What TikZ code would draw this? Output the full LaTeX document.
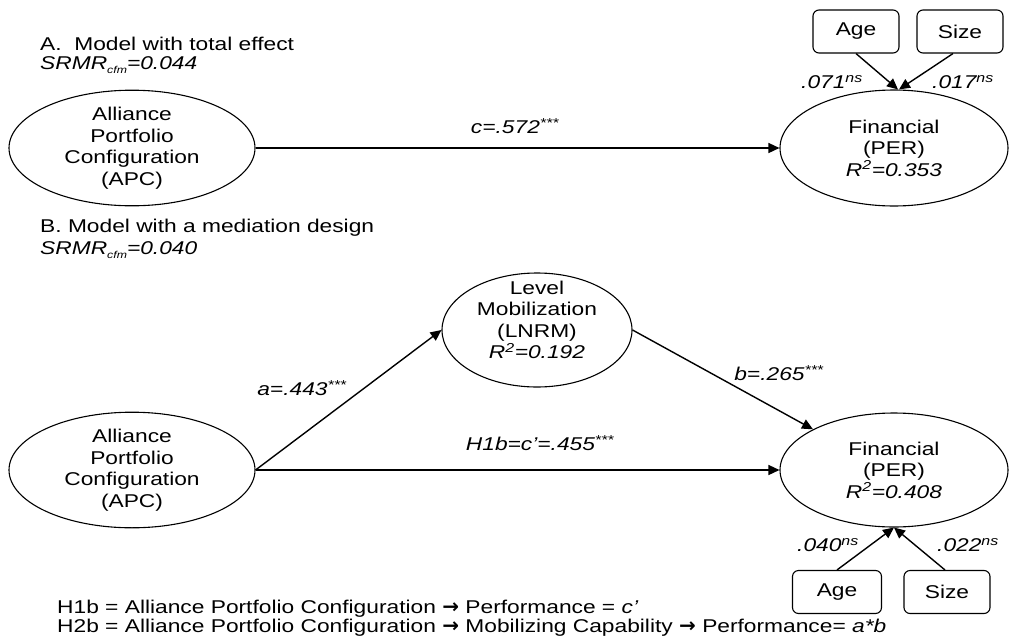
\documentclass[tikz,border=0pt]{standalone}
\usepackage{fontspec}
\setmainfont{Liberation Sans}[FakeStretch=1.23]
\newfontfamily\arrfont{DejaVu Sans Bold}
\usetikzlibrary{arrows.meta,shapes.geometric}
\newcommand{\subcfm}{\raisebox{-0.35ex}{\fontsize{10}{10}\selectfont cfm}}
\newcommand{\rarr}{{\arrfont\fontsize{20}{20}\selectfont →}}
\begin{document}
\begin{tikzpicture}[x=1pt,y=-1pt,
  txt/.style={font=\fontsize{18.5}{21.5}\selectfont, align=center, inner sep=0pt},
  lat/.style={ellipse, draw, line width=1.1pt, inner sep=0pt, txt},
  box/.style={rounded corners=6pt, draw, line width=1.1pt, minimum width=86pt, minimum height=43pt, txt},
  arr/.style={-{Triangle[length=11pt,width=10pt]}, line width=1.4pt},
  lbl/.style={font=\fontsize{18.5}{21.5}\selectfont\itshape, inner sep=0pt}
]
\useasboundingbox (0,0) rectangle (1010,643);

% ---------- Part A ----------
\node[txt, anchor=west] (titA) at (40,44) {A.\ \ Model with total effect};
\node[lbl, anchor=west] (srmrA) at (40,65) {SRMR\subcfm=0.044};

\node[lat, minimum width=246pt, minimum height=112pt] (apcA) at (132,148)
  {Alliance\\Portfolio\\Configuration\\(APC)};
\node[lat, minimum width=228pt, minimum height=116pt] (perA) at (894,148)
  {Financial\\(PER)\\\textit{R\textsuperscript{2}=0.353}};
\node[box] (ageA) at (856,31.5) {Age};
\node[box] (sizeA) at (960,31.5) {Size};

\draw[arr] (apcA) -- (perA);
\draw[arr] (ageA.south) -- ([xshift=4pt]perA.north);
\draw[arr] ([xshift=-7pt]sizeA.south) -- ([xshift=5pt]perA.north);

\node[lbl] (lc) at (515,126) {c=.572\textsuperscript{***}};
\node[lbl] (lageA) at (832,82) {.071\textsuperscript{ns}};
\node[lbl] (lsizeA) at (963,82) {.017\textsuperscript{ns}};

% ---------- Part B ----------
\node[txt, anchor=west] (titB) at (40,228) {B. Model with a mediation design};
\node[lbl, anchor=west] (srmrB) at (40,250) {SRMR\subcfm=0.040};

\node[lat, minimum width=190pt, minimum height=114pt,
  label={[txt,yshift=10pt]center:{Level\\Mobilization\\(LNRM)\\\textit{R\textsuperscript{2}=0.192}}}] (lnrm) at (537,330) {};
\node[lat, minimum width=246pt, minimum height=112pt] (apcB) at (132,470)
  {Alliance\\Portfolio\\Configuration\\(APC)};
\node[lat, minimum width=228pt, minimum height=114pt] (perB) at (894,470)
  {Financial\\(PER)\\\textit{R\textsuperscript{2}=0.408}};
\node[box, minimum width=89pt] (ageB) at (837,592) {Age};
\node[box] (sizeB) at (947,592) {Size};

\draw[arr] (apcB.east) -- (lnrm.west);
\draw[arr] (lnrm.east) -- (perB.north west);
\draw[arr] (apcB) -- (perB);
\draw[arr] (ageB.north) -- (perB.south);
\draw[arr] ([xshift=-2pt]sizeB.north) -- (perB.south);

\node[lbl] (la) at (302,388) {a=.443\textsuperscript{***}};
\node[lbl] (lb) at (779,373) {b=.265\textsuperscript{***}};
\node[lbl] (lh) at (540,443) {H1b=c’=.455\textsuperscript{***}};
\node[lbl] (lageB) at (828,545) {.040\textsuperscript{ns}};
\node[lbl] (lsizeB) at (968,545) {.022\textsuperscript{ns}};

% ---------- Footer ----------
\node[txt, anchor=west] (f1) at (57,609) {H1b = Alliance Portfolio Configuration \rarr{} Performance = \textit{c’}};
\node[txt, anchor=west] (f2) at (57,628) {H2b = Alliance Portfolio Configuration \rarr{} Mobilizing Capability \rarr{} Performance= \textit{a*b}};
\end{tikzpicture}
\end{document}
